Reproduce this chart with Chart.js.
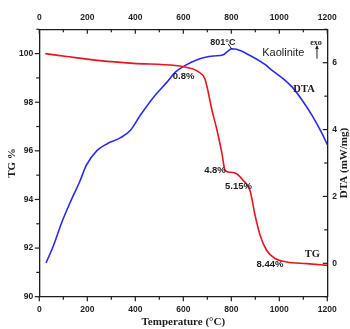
<!DOCTYPE html>
<html>
<head>
<meta charset="utf-8">
<script src="https://cdn.jsdelivr.net/npm/chart.js@4/dist/chart.umd.min.js"></script>
<style>
  html, body { margin: 0; padding: 0; background: #fff; }
  #wrap { position: relative; width: 350px; height: 329px; }
</style>
</head>
<body>
<div id="wrap"><canvas id="tgChart"></canvas></div>
<script>
// TG curve (mass %, left axis)
const tgTemp = [25, 114, 253, 392, 567, 628, 662, 690, 704, 718, 739, 760, 774, 787, 822, 850, 878, 899, 920, 947, 982, 1031, 1114, 1200];
const tgMass = [100.0, 99.88, 99.71, 99.6, 99.51, 99.4, 99.26, 98.96, 98.41, 97.73, 96.91, 95.95, 95.2, 95.13, 95.06, 94.78, 94.37, 93.35, 92.53, 91.91, 91.57, 91.43, 91.36, 91.29];

// DTA curve (mW/mg, right axis)
const dtaTemp = [28, 58, 93, 128, 170, 195, 240, 281, 337, 379, 420, 476, 532, 567, 608, 669, 725, 767, 781, 802, 822, 864, 940, 970, 1017, 1054, 1096, 1137, 1179, 1200];
const dtaSignal = [0.01, 0.51, 1.21, 1.81, 2.47, 2.92, 3.37, 3.57, 3.75, 3.97, 4.42, 4.97, 5.42, 5.72, 5.92, 6.12, 6.2, 6.24, 6.32, 6.42, 6.4, 6.27, 5.95, 5.77, 5.52, 5.27, 4.87, 4.42, 3.87, 3.55];

// annotations, placed in (temperature, TG %) coordinates
const notes = [
  { text: "801°C", x: 765, y: 100.45, font: "bold 9px 'Liberation Sans', Arial, sans-serif" },
  { text: "Kaolinite", x: 1017, y: 100.04, font: "11px 'Liberation Sans', Arial, sans-serif" },
  { text: "exo", x: 1153, y: 100.45, font: "bold 8px 'Liberation Serif', 'Times New Roman', serif" },
  { text: "DTA", x: 1103, y: 98.54, font: "bold 10.5px 'Liberation Serif', 'Times New Roman', serif" },
  { text: "0.8%", x: 601, y: 99.06, font: "bold 9.5px 'Liberation Sans', Arial, sans-serif" },
  { text: "4.8%", x: 732, y: 95.2, font: "bold 9.5px 'Liberation Sans', Arial, sans-serif" },
  { text: "5.15%", x: 830, y: 94.54, font: "bold 9.5px 'Liberation Sans', Arial, sans-serif" },
  { text: "8.44%", x: 961, y: 91.33, font: "bold 9.5px 'Liberation Sans', Arial, sans-serif" },
  { text: "TG", x: 1138, y: 91.75, font: "bold 10.5px 'Liberation Serif', 'Times New Roman', serif" },
];

const RED = "#e8141e";
const BLUE = "#2a2af2";
const INK = "#1e1e1e";
const tickFont = { family: "'Liberation Sans', Arial, sans-serif", size: 8.5, weight: "bold" };
const titleFont = { family: "'Liberation Serif', 'Times New Roman', serif", size: 11, weight: "bold" };
const noGrid = { display: false, drawTicks: false };

const pts = (xs, ys) => xs.map((x, i) => ({ x, y: ys[i] }));
const evenLabel = (step) => (v) => (Math.round(v) % step === 0 ? v : "");

// ticks: left/bottom outward, top/right inward; major where labelled
const tickMarks = {
  id: "tickMarks",
  afterDraw(chart) {
    const c = chart.ctx;
    const a = chart.chartArea;
    c.save();
    c.strokeStyle = INK;
    c.lineWidth = 1.2;
    const sides = [["x", a.bottom, 1], ["x2", a.top, 1], ["y", a.left, -1], ["y2", a.right, -1]];
    for (const [id, edge, dir] of sides) {
      const s = chart.scales[id];
      for (const t of s.ticks) {
        const p = s.getPixelForValue(t.value);
        const len = t.label === "" ? 3 : 4.5;
        c.beginPath();
        if (s.isHorizontal()) { c.moveTo(p, edge); c.lineTo(p, edge + dir * len); }
        else { c.moveTo(edge, p); c.lineTo(edge + dir * len, p); }
        c.stroke();
      }
    }
    c.restore();
  },
};

const labels = {
  id: "labels",
  afterDraw(chart) {
    const c = chart.ctx;
    const sx = chart.scales.x, sy = chart.scales.y;
    c.save();
    c.fillStyle = INK;
    c.textAlign = "center";
    c.textBaseline = "middle";
    for (const n of notes) {
      c.font = n.font;
      c.fillText(n.text, sx.getPixelForValue(n.x), sy.getPixelForValue(n.y));
    }
    // pointer at the 801 °C peak
    c.strokeStyle = INK;
    c.lineWidth = 1;
    c.beginPath();
    c.moveTo(sx.getPixelForValue(787), sy.getPixelForValue(100.4));
    c.lineTo(sx.getPixelForValue(804), sy.getPixelForValue(100.16));
    c.stroke();
    // exo arrow
    const ax = sx.getPixelForValue(1157);
    const y0 = sy.getPixelForValue(99.79), y1 = sy.getPixelForValue(100.29);
    c.beginPath();
    c.moveTo(ax, y0); c.lineTo(ax, y1);
    c.stroke();
    c.beginPath();
    c.moveTo(ax, y1 - 1.5); c.lineTo(ax - 1.8, y1 + 2.5); c.lineTo(ax + 1.8, y1 + 2.5);
    c.closePath();
    c.fill();
    // right axis title reads bottom to top
    const r = chart.scales.y2;
    c.translate(344, (r.top + r.bottom) / 2);
    c.rotate(-Math.PI / 2);
    c.font = "bold 11px 'Liberation Serif', 'Times New Roman', serif";
    c.fillText("DTA (mW/mg)", 0, 0);
    c.restore();
  },
};

new Chart(document.getElementById("tgChart"), {
  type: "line",
  data: {
    datasets: [
      { data: pts(tgTemp, tgMass), xAxisID: "x", yAxisID: "y", borderColor: RED, borderWidth: 1.6, pointRadius: 0, cubicInterpolationMode: "monotone" },
      { data: pts(dtaTemp, dtaSignal), xAxisID: "x", yAxisID: "y2", borderColor: BLUE, borderWidth: 1.6, pointRadius: 0, cubicInterpolationMode: "monotone" },
    ],
  },
  options: {
    responsive: true,
    maintainAspectRatio: false,
    animation: false,
    layout: { padding: 0 },
    plugins: { legend: { display: false }, tooltip: { enabled: false } },
    scales: {
      x: {
        type: "linear", position: "bottom", min: 0, max: 1200,
        grid: noGrid, border: { color: INK, width: 1.3 },
        ticks: { stepSize: 100, autoSkip: false, maxRotation: 0, padding: 8, color: INK, font: tickFont, callback: evenLabel(200) },
        title: { display: true, text: "Temperature (°C)", color: INK, font: titleFont, padding: { top: 0, bottom: 0 } },
        afterFit: (s) => { s.height = 32.3; },
      },
      x2: {
        type: "linear", position: "top", min: 0, max: 1200,
        grid: noGrid, border: { color: INK, width: 1.3 },
        ticks: { stepSize: 100, autoSkip: false, maxRotation: 0, padding: 7, color: INK, font: tickFont, callback: evenLabel(200) },
        afterFit: (s) => { s.height = 29.3; },
      },
      y: {
        position: "left", min: 90, max: 101,
        grid: noGrid, border: { color: INK, width: 1.3 },
        ticks: { stepSize: 1, autoSkip: false, padding: 6, color: INK, font: tickFont, callback: evenLabel(2) },
        title: { display: true, text: "TG %", color: INK, font: titleFont, padding: { top: 6, bottom: 0 } },
        afterFit: (s) => { s.width = 39.3; },
      },
      y2: {
        position: "right", min: -1, max: 7,
        grid: noGrid, border: { color: INK, width: 1.3 },
        ticks: { stepSize: 1, autoSkip: false, padding: 5, color: INK, font: tickFont, callback: evenLabel(2) },
        afterFit: (s) => { s.width = 22.7; },
      },
    },
  },
  plugins: [tickMarks, labels],
});
</script>
</body>
</html>
